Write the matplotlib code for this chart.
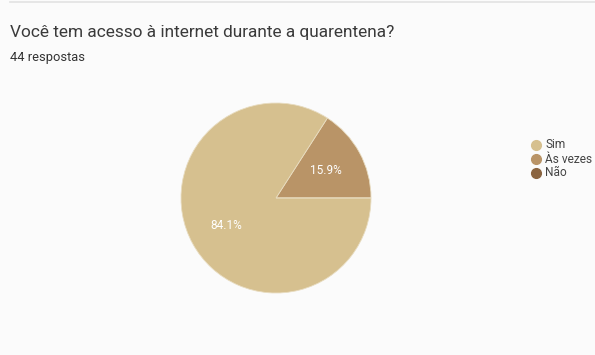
import matplotlib
matplotlib.use("Agg")
import matplotlib.pyplot as plt
from matplotlib.lines import Line2D
import numpy as np

labels = ["Sim", "Às vezes", "Não"]
counts = [37, 7, 0]
colors = ["#d6c08f", "#b99467", "#8a6440"]
total = sum(counts)

plt.rcParams['font.family'] = ['Roboto', 'DejaVu Sans']

W, H = 595, 355
fig = plt.figure(figsize=(W / 100, H / 100), dpi=100)
fig.patch.set_facecolor("#fbfbfb")

# thin rule at the top
fig.add_artist(Line2D([10 / W, 1], [1 - 1.5 / H, 1 - 1.5 / H], color="#e2e2e2", lw=1.2))

fig.text(10 / W, 1 - 33 / H, "Você tem acesso à internet durante a quarentena?",
         fontsize=12.4, color="#3a3a3a", va="center", ha="left")
fig.text(10 / W, 1 - 58 / H, "44 respostas", fontsize=9.3, color="#333333",
         va="center", ha="left")

cx, cy, r = 276, 198, 95
ax = fig.add_axes([(cx - r) / W, (H - cy - r) / H, 2 * r / W, 2 * r / H])

# draw counter-clockwise from 3 o'clock, Às vezes first
order = [1, 0, 2]
vals = [counts[i] for i in order]
cols = [colors[i] for i in order]
wedges, _ = ax.pie(vals, colors=cols, startangle=0, counterclock=True,
                   wedgeprops=dict(linewidth=0.6, edgecolor="#e8dcc0"))
ax.set_aspect("equal")
ax.set_xlim(-1.0, 1.0)
ax.set_ylim(-1.0, 1.0)

# percent labels
ang = 0
for v in vals:
    if v == 0:
        continue
    frac = v / total
    mid = np.deg2rad(ang + frac * 180)
    d = 0.6
    ax.text(d * np.cos(mid), d * np.sin(mid), f"{frac * 100:.1f}%",
            color="white", fontsize=8.5, ha="center", va="center")
    ang += frac * 360

# legend
for i, (lab, c) in enumerate(zip(labels, colors)):
    y = 1 - (145 + 14 * i) / H
    fig.add_artist(Line2D([536 / W], [y], marker="o", markersize=7,
                          color=c, linestyle="none"))
    fig.text(545 / W, y, lab, fontsize=8.6, color="#444444", va="center", ha="left")

fig.savefig("out.png", dpi=100, facecolor=fig.get_facecolor())
